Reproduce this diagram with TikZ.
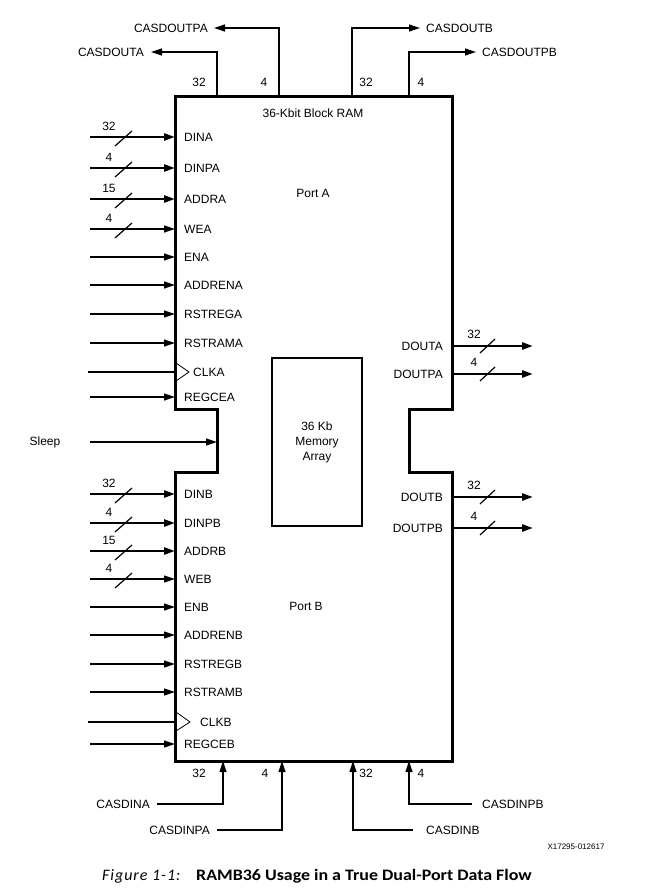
\documentclass[tikz,border=0pt]{standalone}
\usepackage{fontspec}
\setmainfont{Liberation Sans}
\newfontfamily\capfont{Carlito}
\newfontfamily\capfontsp[LetterSpace=6]{Carlito}
\usetikzlibrary{arrows.meta}
\begin{document}
\begin{tikzpicture}[x=1pt,y=-1pt,
  lbl/.style={inner sep=0pt, font=\fontsize{12}{14}\selectfont},
  pin/.style={lbl, anchor=west},
  thinw/.style={line width=1.2pt},
  busw/.style={line width=2.4pt},
  arr/.style={-{Triangle[length=11pt,width=7pt]}},
  blk/.style={line width=3pt, line join=miter}]
\useasboundingbox (0,0) rectangle (648,896);

% main block
\draw[blk] (175,97) -- (452,97) -- (452,409) -- (409,409) -- (409,472) -- (452,472)
  -- (452,761) -- (175,761) -- (175,472) -- (217,472) -- (217,409) -- (175,409) -- cycle;
\node[lbl] (title) at (313,113) {36-Kbit Block RAM};
\node[lbl] (porta) at (313,193) {Port A};
\node[lbl] (portb) at (306,606) {Port B};

% memory array
\node[draw, line width=2pt, minimum width=90pt, minimum height=168pt, inner sep=0pt,
      align=center, font=\fontsize{12}{15}\selectfont] (mem) at (317,442) {36 Kb\\Memory\\Array};

% top cascade outputs
\node[lbl, anchor=east] (cdoa) at (144,52) {CASDOUTA};
\node[lbl, anchor=east] (cdopa) at (208,28) {CASDOUTPA};
\node[lbl, anchor=west] (cdob) at (426,28) {CASDOUTB};
\node[lbl, anchor=west] (cdopb) at (482,52) {CASDOUTPB};
\coordinate (t1) at (217,97);
\coordinate (t2) at (279,97);
\coordinate (t3) at (352,97);
\coordinate (t4) at (409,97);
\draw[thinw,arr] (t1) |- ([xshift=7pt]cdoa.east);
\draw[thinw,arr] (t2) |- ([xshift=6pt]cdopa.east);
\draw[thinw,arr] (t3) |- ([xshift=-6pt]cdob.west);
\draw[thinw,arr] (t4) |- ([xshift=-6pt]cdopb.west);
\node[lbl] at (199,82) {32};
\node[lbl] at (264,82) {4};
\node[lbl] at (366,82) {32};
\node[lbl] at (421,82) {4};

% bus inputs
\foreach \y/\t/\w in {137/DINA/32, 168/DINPA/4, 199/ADDRA/15, 494/DINB/32, 523/DINPB/4, 551/ADDRB/15} {
  \node[pin] (p\t) at (184,\y) {\t};
  \coordinate (s\t) at (90,\y);
  \coordinate (e\t) at (175,\y);
  \draw[busw,arr] (s\t) -- (e\t);
  \draw[thinw] (115,\y+9) -- (132,\y-6);
  \node[lbl] at (109,\y-11) {\w};
}
% thin with width
\foreach \y/\t/\w in {229/WEA/4, 579/WEB/4} {
  \node[pin] (p\t) at (184,\y) {\t};
  \coordinate (s\t) at (90,\y);
  \coordinate (e\t) at (175,\y);
  \draw[thinw,arr] (s\t) -- (e\t);
  \draw[thinw] (115,\y+9) -- (132,\y-6);
  \node[lbl] at (109,\y-11) {\w};
}
% plain inputs
\foreach \y/\t in {257/ENA, 285/ADDRENA, 314/RSTREGA, 343/RSTRAMA, 397/REGCEA,
                   607/ENB, 635/ADDRENB, 664/RSTREGB, 692/RSTRAMB, 744/REGCEB} {
  \node[pin] (p\t) at (184,\y) {\t};
  \coordinate (s\t) at (90,\y);
  \coordinate (e\t) at (175,\y);
  \draw[thinw,arr] (s\t) -- (e\t);
}
% clocks
\node[pin] (pCLKA) at (193,372) {CLKA};
\coordinate (sCLKA) at (88,372);
\coordinate (eCLKA) at (175,372);
\draw[thinw] (sCLKA) -- (eCLKA);
\draw[line width=0.8pt] (176,363) -- (189,372) -- (176,381);
\node[pin] (pCLKB) at (200,722) {CLKB};
\coordinate (sCLKB) at (88,722);
\coordinate (eCLKB) at (175,722);
\draw[thinw] (sCLKB) -- (eCLKB);
\draw[line width=0.8pt] (176,712) -- (190,722) -- (176,731);

% sleep
\node[lbl] (sleep) at (45,442) {Sleep};
\coordinate (sSleep) at (90,442);
\coordinate (eSleep) at (217,442);
\draw[thinw,arr] (sSleep) -- (eSleep);

% right outputs
\foreach \y/\t/\w in {346/DOUTA/32, 374/DOUTPA/4, 497/DOUTB/32, 528/DOUTPB/4} {
  \node[lbl, anchor=east] (p\t) at (443,\y) {\t};
  \coordinate (s\t) at (452,\y);
  \coordinate (e\t) at (533,\y);
  \draw[busw,arr] (s\t) -- (e\t);
  \draw[thinw] (480,\y+7) -- (495,\y-7);
  \node[lbl] at (474,\y-12) {\w};
}

% bottom cascade inputs
\node[lbl, anchor=east] (cdia) at (150,804) {CASDINA};
\node[lbl, anchor=east] (cdipa) at (210,830) {CASDINPA};
\node[lbl, anchor=west] (cdib) at (426,830) {CASDINB};
\node[lbl, anchor=west] (cdipb) at (482,804) {CASDINPB};
\coordinate (b1) at (223,761);
\coordinate (b2) at (282,761);
\coordinate (b3) at (353,761);
\coordinate (b4) at (409,761);
\draw[thinw,arr] ([xshift=7pt]cdia.east) -| (b1);
\draw[thinw,arr] ([xshift=7pt]cdipa.east) -| (b2);
\draw[thinw,arr] ([xshift=-13pt]cdib.west) -| (b3);
\draw[thinw,arr] ([xshift=-10pt]cdipb.west) -| (b4);
\node[lbl] at (199,773) {32};
\node[lbl] at (265,773) {4};
\node[lbl] at (366,773) {32};
\node[lbl] at (421,773) {4};

% id and caption
\node[inner sep=0pt, font=\fontsize{8}{9}\selectfont] (xid) at (576,847) {X17295-012617};
\node[inner sep=0pt, anchor=west, font=\capfontsp\fontsize{16}{18}\selectfont] (capa) at (102,876)
  {\textit{Figure 1-1:}};
\node[inner sep=0pt, anchor=west, font=\capfont\fontsize{16}{18}\selectfont] (capb) at (196,876)
  {\scalebox{1.12}[1]{\textbf{RAMB36 Usage in a True Dual-Port Data Flow}}};
\end{tikzpicture}
\end{document}
